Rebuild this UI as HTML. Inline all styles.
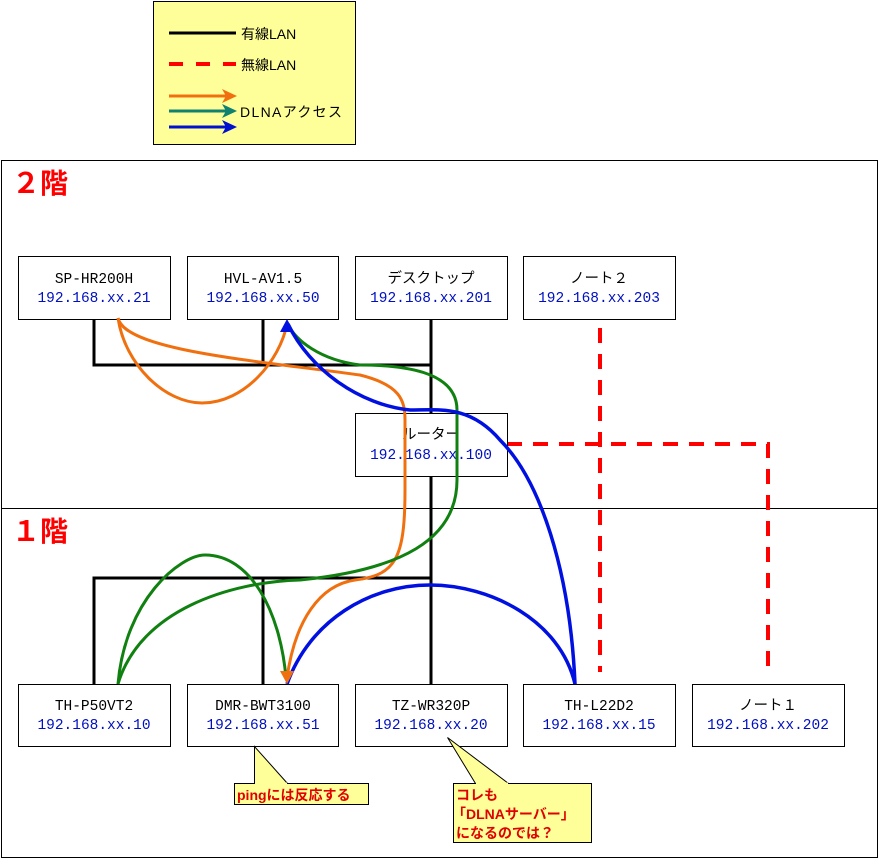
<!DOCTYPE html>
<html><head><meta charset="utf-8"><style>
body{margin:0;background:#fff;}
svg text{font-family:"Liberation Sans","Noto Sans CJK JP",sans-serif;}
svg .m{font-family:"Liberation Mono","Noto Sans CJK JP",monospace;}
</style></head><body>
<svg width="879" height="859" viewBox="0 0 879 859" xmlns="http://www.w3.org/2000/svg">
<rect x="0" y="0" width="879" height="859" fill="#fff"/>
<!-- legend -->
<rect x="153.5" y="1.5" width="202" height="143" fill="#ffff99" stroke="#000"/>
<line x1="169" y1="33" x2="236" y2="33" stroke="#000" stroke-width="3"/>
<text x="241" y="39" font-size="14">有線LAN</text>
<line x1="169" y1="64" x2="236" y2="64" stroke="#f00" stroke-width="4" stroke-dasharray="14,13"/>
<text x="241" y="70" font-size="14">無線LAN</text>
<g stroke-width="3">
<line x1="169" y1="96" x2="228" y2="96" stroke="#f07010"/><path d="M222,89 L237,96 L222,103 L226,96 Z" fill="#f07010"/>
<line x1="169" y1="111" x2="228" y2="111" stroke="#108070"/><path d="M222,104 L237,111 L222,118 L226,111 Z" fill="#108070"/>
<line x1="169" y1="127" x2="228" y2="127" stroke="#0010d0"/><path d="M222,120 L237,127 L222,134 L226,127 Z" fill="#0010d0"/>
</g>
<text x="240" y="117" font-size="14" textLength="102">DLNAアクセス</text>
<!-- frame -->
<rect x="1.5" y="160.5" width="876" height="697" fill="none" stroke="#000"/>
<line x1="1" y1="508.5" x2="878" y2="508.5" stroke="#000"/>
<text x="12" y="193" font-size="28" font-weight="bold" fill="#f00">２階</text>
<text x="12" y="541" font-size="28" font-weight="bold" fill="#f00">１階</text>
<!-- wired -->
<g stroke="#000" stroke-width="3" fill="none">
<path d="M94,319 V365 H431 M263,319 V365 M431,319 V413"/>
<path d="M431,476 V684 M94,684 V578 H431 M263,578 V684"/>
</g>
<!-- wireless -->
<g stroke="#f00" stroke-width="4" fill="none" stroke-dasharray="15,11">
<path d="M600,328 V672"/>
<path d="M507,444 H768 V672"/>
</g>
<!-- boxes -->
<g fill="#fff" stroke="#000">
<rect x="18.5" y="256.5" width="152" height="63"/>
<rect x="187.5" y="256.5" width="151" height="63"/>
<rect x="355.5" y="256.5" width="152" height="63"/>
<rect x="523.5" y="256.5" width="152" height="63"/>
<rect x="355.5" y="413.5" width="152" height="63"/>
<rect x="18.5" y="684.5" width="152" height="62"/>
<rect x="187.5" y="684.5" width="151" height="62"/>
<rect x="355.5" y="684.5" width="152" height="62"/>
<rect x="523.5" y="684.5" width="152" height="62"/>
<rect x="692.5" y="684.5" width="152" height="62"/>
</g>
<g font-size="14.5" text-anchor="middle" class="m">
<text class="m" x="94" y="283">SP-HR200H</text><text class="m" x="94" y="302" fill="#0010c0">192.168.xx.21</text>
<text class="m" x="263" y="283">HVL-AV1.5</text><text class="m" x="263" y="302" fill="#0010c0">192.168.xx.50</text>
<text class="m" x="431" y="283">デスクトップ</text><text class="m" x="431" y="302" fill="#0010c0">192.168.xx.201</text>
<text class="m" x="599" y="283">ノート２</text><text class="m" x="599" y="302" fill="#0010c0">192.168.xx.203</text>
<text class="m" x="431" y="439">ルーター</text><text class="m" x="431" y="459" fill="#0010c0">192.168.xx.100</text>
<text class="m" x="94" y="710">TH-P50VT2</text><text class="m" x="94" y="729" fill="#0010c0">192.168.xx.10</text>
<text class="m" x="263" y="710">DMR-BWT3100</text><text class="m" x="263" y="729" fill="#0010c0">192.168.xx.51</text>
<text class="m" x="431" y="710">TZ-WR320P</text><text class="m" x="431" y="729" fill="#0010c0">192.168.xx.20</text>
<text class="m" x="599" y="710">TH-L22D2</text><text class="m" x="599" y="729" fill="#0010c0">192.168.xx.15</text>
<text class="m" x="768" y="710">ノート１</text><text class="m" x="768" y="729" fill="#0010c0">192.168.xx.202</text>
</g>
<!-- DLNA curves -->
<g fill="none" stroke-width="3">
<path d="M118,318 C125,365 165,403 202,403 C245,403 280,360 287,324" stroke="#f07010"/>
<path d="M118,318 C125,350 250,360 360,375 C400,385 405,400 405,420 L405,490 C405,560 395,575 355,580 C320,585 295,620 287,678" stroke="#f07010"/>
<path d="M118,684 C125,600 180,555 205,555 C250,555 280,610 286,678" stroke="#108010"/>
<path d="M118,684 C140,610 230,582 300,580 C400,570 457,540 457,480 L457,410 C457,370 400,365 360,365 C320,360 295,340 288,324" stroke="#108010"/>
<path d="M575,684 C570,570 540,480 500,440 C470,405 440,410 410,410 C360,405 310,370 288,324" stroke="#0010e0" stroke-width="3.5"/>
<path d="M287,684 C310,620 370,585 430,585 C490,585 560,620 575,684" stroke="#0010e0" stroke-width="3.5"/>
</g>
<path d="M287,319 L280,332 L294,332 Z" fill="#0010e0"/>
<path d="M287,684 L280,671 L294,671 Z" fill="#f07010"/>
<!-- callouts -->
<path d="M234.5,783.5 H368.5 V804.5 H234.5 Z" fill="#ffff99" stroke="#000"/>
<path d="M254.5,783.5 V746.5 L287.5,783.5" fill="#ffff99" stroke="#000"/>
<line x1="255" y1="783.5" x2="287" y2="783.5" stroke="#ffff99" stroke-width="2"/>
<text x="237" y="800" font-size="14" font-weight="bold" fill="#e00000" font-family="'Liberation Serif','Noto Serif CJK SC',serif">pingには反応する</text>
<path d="M453.5,783.5 H591.5 V842.5 H453.5 Z" fill="#ffff99" stroke="#000"/>
<path d="M447.5,737.5 L508.5,783.5 L475.5,783.5 Z" fill="#ffff99" stroke="#000"/>
<line x1="476" y1="783.5" x2="508" y2="783.5" stroke="#ffff99" stroke-width="2"/>
<g font-size="14" font-weight="bold" fill="#e00000" font-family="'Liberation Serif','Noto Serif CJK SC',serif">
<text x="456" y="800">コレも</text>
<text x="452" y="819">「DLNAサーバー」</text>
<text x="456" y="838">になるのでは？</text>
</g>
</svg>
</body></html>
